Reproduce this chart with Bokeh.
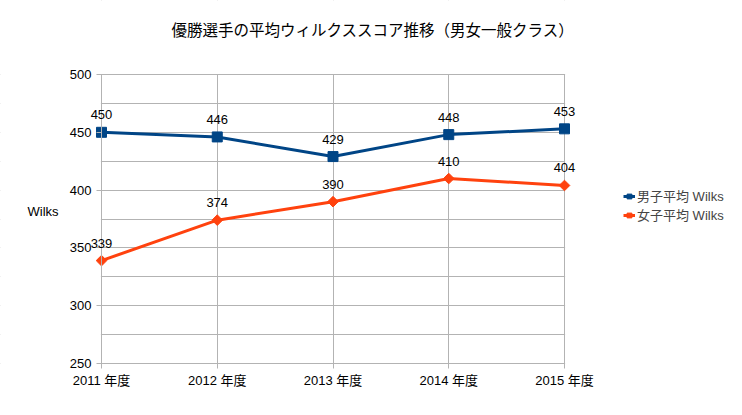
from bokeh.plotting import figure
from bokeh.models import (FixedTicker, Label, LabelSet, ColumnDataSource, Legend, LegendItem,
                          BoxAnnotation)
from bokeh.core.properties import value
from bokeh.embed import file_html
from bokeh.resources import INLINE
import math

years = ["2011 年度", "2012 年度", "2013 年度", "2014 年度", "2015 年度"]
male = [450, 446, 429, 448, 453]
female = [339, 374, 390, 410, 404]
yticks = [250, 300, 350, 400, 450, 500]
yminor = [275, 325, 375, 425, 475]
title = "優勝選手の平均ウィルクススコア推移（男女一般クラス）"

BLUE = "#004586"
ORANGE = "#ff420e"
GRID = "#b3b3b3"
FONT = "Liberation Sans"
MIX = "'Liberation Sans', 'Noto Sans CJK JP'"
JFONT = "Noto Sans CJK JP"

W, H = 726, 399
X0, X1 = 101, 564   # pixel positions of first / last category
TOP, BOT = 74, 363  # pixel positions of 500 / 250
YLO, YHI = yticks[0], yticks[-1]
n = len(years)
ppu = (X1 - X0) / (n - 1)
ppy = (BOT - TOP) / (YHI - YLO)
xs = list(range(n))

p = figure(width=W, height=H, output_backend="svg", toolbar_location=None,
           x_range=(-X0 / ppu, (n - 1) + (W - X1) / ppu),
           y_range=(YLO - (H - BOT) / ppy, YHI + TOP / ppy),
           min_border=0)
p.outline_line_color = None
p.background_fill_color = "white"
p.border_fill_color = "white"

p.xaxis.ticker = FixedTicker(ticks=xs)
p.xaxis.major_label_overrides = {i: y for i, y in enumerate(years)}
p.xaxis.bounds = (0, n - 1)
p.xaxis.fixed_location = YLO
p.yaxis.ticker = FixedTicker(ticks=yticks, minor_ticks=yminor)
p.yaxis.bounds = (YLO, YHI)
p.yaxis.fixed_location = 0
for ax in (p.xaxis[0], p.yaxis[0]):
    ax.axis_line_color = GRID
    ax.major_tick_line_color = GRID
    ax.major_tick_in = 0
    ax.major_tick_out = 5
    ax.minor_tick_line_color = None
    ax.major_label_text_font = MIX
    ax.major_label_text_font_size = "13px"
    ax.major_label_text_color = "black"
p.xaxis.major_label_standoff = 4
p.yaxis.major_label_standoff = 5
p.xgrid.grid_line_color = GRID
p.ygrid.grid_line_color = GRID
p.ygrid.minor_grid_line_color = GRID

# white masks so grid lines only span the plot area
mask = dict(fill_color="white", fill_alpha=1, line_alpha=0, level="underlay")
p.add_layout(BoxAnnotation(right=-0.6 / ppu, **mask))
p.add_layout(BoxAnnotation(left=n - 1 + 0.6 / ppu, **mask))
p.add_layout(BoxAnnotation(bottom=YHI + 0.6 / ppy, **mask))
p.add_layout(BoxAnnotation(top=YLO - 0.6 / ppy, **mask))

src_m = ColumnDataSource(dict(x=xs, y=male, t=[str(v) for v in male]))
src_f = ColumnDataSource(dict(x=xs, y=female, t=[str(v) for v in female]))

lm = p.line("x", "y", source=src_m, line_color=BLUE, line_width=3)
mm = p.scatter("x", "y", source=src_m, marker="square", size=10, fill_color=BLUE, line_color=BLUE)
lf = p.line("x", "y", source=src_f, line_color=ORANGE, line_width=3)
mf = p.scatter("x", "y", source=src_f, marker="square", size=7.5, angle=math.pi / 4,
               fill_color=ORANGE, line_color=ORANGE)

for s in (src_m, src_f):
    p.add_layout(LabelSet(x="x", y="y", text="t", source=s, y_offset=13,
                          text_align="center", text_baseline="bottom",
                          text_font=value(FONT), text_font_size="13px", text_color="black"))

legend = Legend(items=[LegendItem(label="男子平均 Wilks", renderers=[lm, mm]),
                       LegendItem(label="女子平均 Wilks", renderers=[lf, mf])],
                location=(623, 175), background_fill_alpha=0, border_line_color=None,
                label_text_font=MIX, label_text_font_size="13px",
                glyph_width=12, glyph_height=12, label_height=17, spacing=0, padding=0, margin=0,
                label_standoff=2)
p.add_layout(legend, "center")

p.add_layout(Label(x=(27 - X0) / ppu, y=YHI - (211 - TOP) / ppy, text="Wilks", text_font=FONT,
                   text_font_size="13px", text_baseline="middle", text_color="black"))

p.add_layout(Label(x=(171 - X0) / ppu, y=YHI + (TOP - 28) / ppy, text=title, text_font=JFONT,
                   text_font_size="15.5px", text_baseline="middle", text_color="black"))

open("out.html", "w").write(file_html(p, INLINE))
